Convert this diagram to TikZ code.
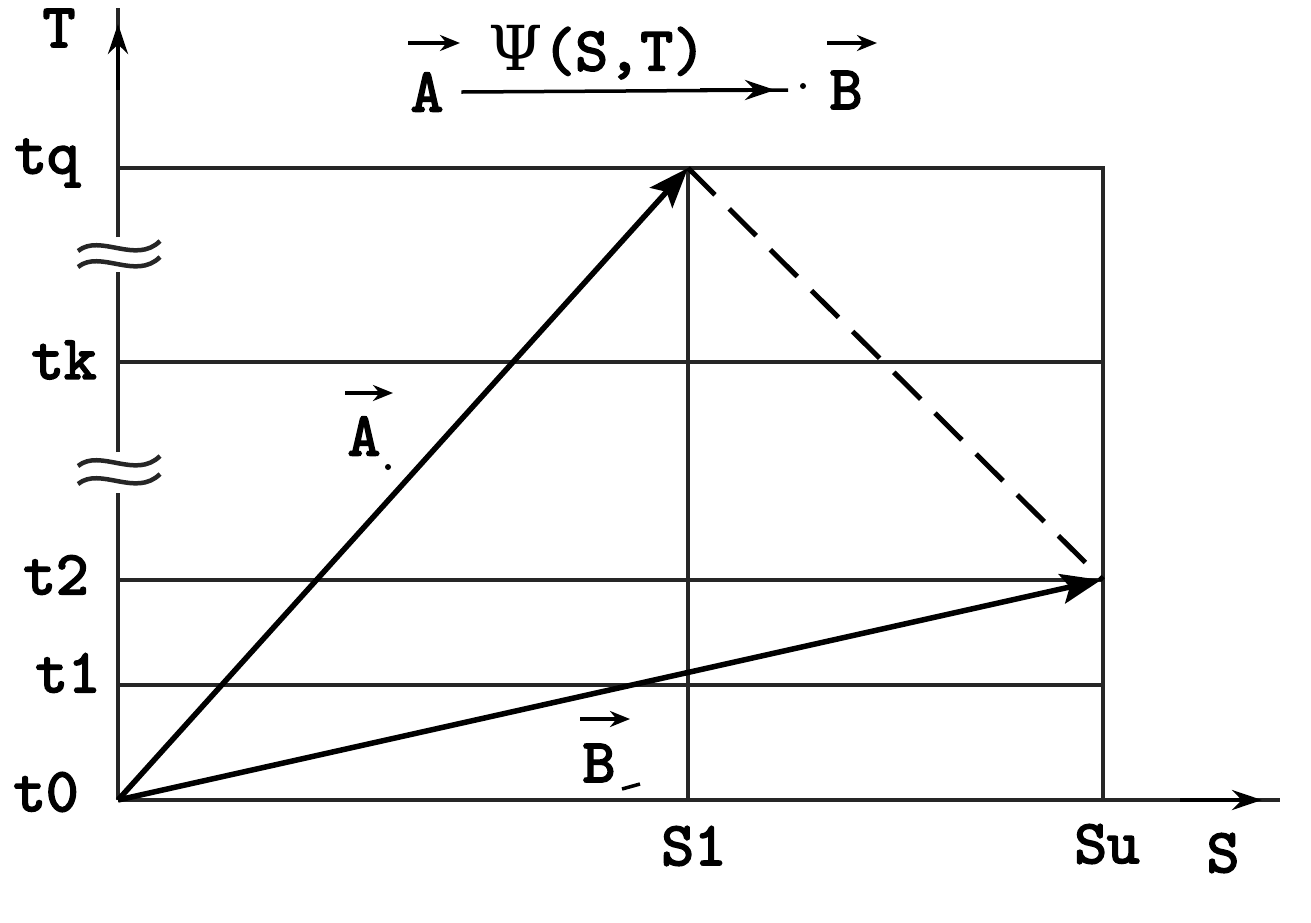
\documentclass[tikz,border=0pt]{standalone}
\usepackage{fontspec}
\newfontfamily\lblfont{lmmono10-regular.otf}[FakeBold=3]
\newfontfamily\psifont{DejaVu Serif}
\usetikzlibrary{arrows.meta}
\begin{document}
\begin{tikzpicture}[x=1pt,y=-1pt,
  gridline/.style={line width=4.5pt,draw=black!85},
  axisline/.style={line width=4.5pt,draw=black!85},
  vecarrow/.style={line width=5.5pt,-{Stealth[length=40pt,width=30pt,inset=8pt]}},
  tiparrow/.style={line width=4.5pt,-{Stealth[length=30pt,width=20pt]}},
  overarrow/.style={line width=4pt,-{Stealth[length=20pt,width=16pt]}},
  brk/.style={line width=4.5pt,draw=black!85},
  lbl/.style={font=\lblfont\fontsize{62}{66}\selectfont,inner sep=0pt}]
\useasboundingbox (0,0) rectangle (1311,922);
\fill[white] (0,0) rectangle (1311,922);
% coordinates
\coordinate (O) at (118,800);
\coordinate (Ttop) at (118,8);
\coordinate (Send) at (1280,800);
\coordinate (Q0) at (118,168);
\coordinate (Q1) at (688,168);
\coordinate (Q2) at (1103,168);
\coordinate (K0) at (118,362);
\coordinate (K2) at (1103,362);
\coordinate (P0) at (118,580);
\coordinate (P2) at (1103,580);
\coordinate (R0) at (118,685);
\coordinate (R2) at (1103,685);
\coordinate (S1b) at (688,800);
\coordinate (Sub) at (1103,800);
% T axis with breaks
\draw[axisline] (O) -- (118,493);
\draw[axisline] (118,452) -- (118,272);
\draw[axisline] (118,237) -- (Ttop);
\draw[tiparrow] (118,90) -- (118,24);
% break marks
\foreach \yy in {247,263,462,480}{
  \draw[brk] (78,\yy+4) .. controls (100,\yy-14) and (136,\yy+18) .. (160,\yy-6);
}
% S axis
\draw[axisline] (O) -- (Send);
\draw[tiparrow] (1180,800) -- (1262,800);
% grid
\draw[gridline] (Q0) -- (Q2) -- (Sub);
\draw[gridline] (K0) -- (K2);
\draw[gridline] (P0) -- (P2);
\draw[gridline] (R0) -- (R2);
\draw[gridline] (Q1) -- (S1b);
% vectors
\draw[vecarrow] (O) -- (Q1);
\draw[vecarrow] (O) -- (1101,580);
\draw[line width=5pt,dash pattern=on 38pt off 20pt] (Q1) -- (P2);
% axis labels
\node[lbl] (lT) at (59,28) {T};
\node[lbl] (ltq) at (47,163) {tq};
\node[lbl] (ltk) at (64,360) {tk};
\node[lbl] (lt2) at (56,575) {t2};
\node[lbl] (lt1) at (68,673) {t1};
\node[lbl] (lt0) at (46,792) {t0};
\node[lbl] (lS1) at (694,846) {S1};
\node[lbl] (lSu) at (1107,844) {Su};
\node[lbl] (lS) at (1223,853) {S};
% vector labels
\node[lbl] (lA) at (364,436) {A};
\draw[overarrow] (345,393) -- (393,393);
\fill (388,467) circle (3pt);
\node[lbl] (lB) at (599,763) {B};
\draw[overarrow] (580,719) -- (630,719);
\draw[line width=3.5pt] (622,789) -- (640,784);
% top formula
\node[lbl] (tA) at (427,92) {A};
\draw[overarrow] (408,43) -- (460,43);
\node[lbl] (tPsi) at (597,52) {{\psifont Ψ}(S,T)};
\node[lbl] (tB) at (846,90) {B};
\draw[overarrow] (827,43) -- (877,43);
\coordinate (tEnd) at (788,90);
\draw[line width=3.5pt] (tA.east) ++(18,0) -- (tEnd);
\draw[tiparrow] (700,90) -- (775,90);
\fill (803,86) circle (3pt);
\end{tikzpicture}
\end{document}
